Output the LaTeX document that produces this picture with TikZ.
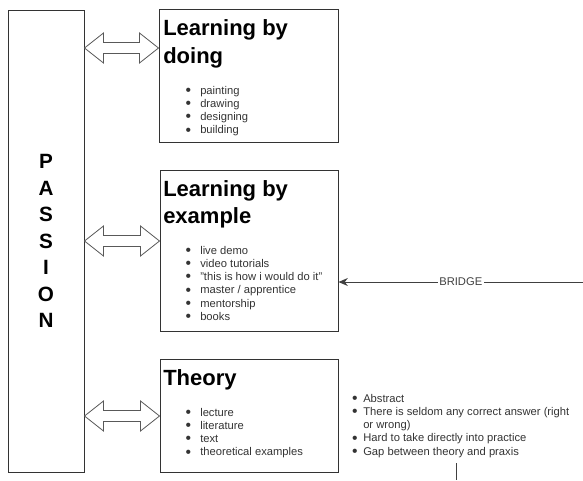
\documentclass[tikz,border=0pt]{standalone}
\usepackage{fontspec}
\setmainfont{Liberation Sans}
\usepackage{tikz}
\usetikzlibrary{arrows.meta}
\usetikzlibrary{calc}

\tikzset{
  box/.style={draw=black!80, line width=0.75pt, inner sep=0pt},
  head/.style={anchor=base west, inner sep=0pt, font=\fontsize{16.5}{21}\selectfont\bfseries},
  item/.style={anchor=base west, inner sep=0pt, text=black!80, font=\fontsize{8.4}{10}\selectfont},
  twoway/.style={draw=black!65, fill=white, line width=0.6pt, line join=miter},
}
\newcommand{\bl}[1][6.8pt]{\llap{\raisebox{-0.9pt}{\scalebox{1.4}{\textbullet}}\hspace{#1}}}
\newcommand{\twoarrow}[2]{%
  \draw[twoway] (#1) -- ($(#1)+(19,-15)$) -- ($(#1)+(19,-5.5)$) -- ($(#2)+(-19,-5.5)$)
    -- ($(#2)+(-19,-15)$) -- (#2) -- ($(#2)+(-19,15)$) -- ($(#2)+(-19,5.5)$)
    -- ($(#1)+(19,5.5)$) -- ($(#1)+(19,15)$) -- cycle;}

\begin{document}
\begin{tikzpicture}[x=0.75pt, y=-0.75pt]
\useasboundingbox (0,0) rectangle (583,480);

% left bar
\node[box, minimum width=57pt, minimum height=346.5pt, align=center,
      font=\fontsize{15.5}{19.9}\selectfont\bfseries] (passion) at (46,241)
      {P\\A\\S\\S\\I\\O\\N};

% the three boxes
\node[box, minimum width=134.25pt, minimum height=99.75pt] (doing) at (248.5,75.5) {};
\node[box, minimum width=133.5pt, minimum height=120.75pt] (example) at (249,250.5) {};
\node[box, minimum width=133.5pt, minimum height=84.75pt] (theory) at (249,415.5) {};

% learning by doing
\node[head] (h1a) at (163,35) {Learning by};
\node[head] (h1b) at (163,63) {doing};
\node[item] (d1) at (200,94) {\bl painting};
\node[item] (d2) at (200,107.3) {\bl drawing};
\node[item] (d3) at (200,120.6) {\bl designing};
\node[item] (d4) at (200,133.9) {\bl building};

% learning by example
\node[head] (h2a) at (163,196) {Learning by};
\node[head] (h2b) at (163,223) {example};
\node[item] (e1) at (200,254) {\bl live demo};
\node[item] (e2) at (200,267.3) {\bl video tutorials};
\node[item] (e3) at (200,280.6) {\bl "this is how i would do it"};
\node[item] (e4) at (200,293.9) {\bl master / apprentice};
\node[item] (e5) at (200,307.2) {\bl mentorship};
\node[item] (e6) at (200,320.5) {\bl books};

% theory
\node[head] (h3a) at (163,385) {Theory};
\node[item] (t1) at (200,416) {\bl lecture};
\node[item] (t2) at (200,429.3) {\bl literature};
\node[item] (t3) at (200,442.6) {\bl text};
\node[item] (t4) at (200,455.9) {\bl theoretical examples};

% notes on theory
\node[item] (n1) at (363,402) {\bl[4.2pt]Abstract};
\node[item] (n2) at (363,415.3) {\bl[4.2pt]There is seldom any correct answer (right};
\node[item] (n3) at (363,428.6) {or wrong)};
\node[item] (n4) at (363,441.9) {\bl[4.2pt]Hard to take directly into practice};
\node[item] (n5) at (363,455.2) {\bl[4.2pt]Gap between theory and praxis};

% two-way arrows
\coordinate (a1l) at (passion.east |- 0,48);
\coordinate (a1r) at (doing.west |- 0,48);
\coordinate (a2l) at (passion.east |- 0,241);
\coordinate (a2r) at (example.west |- 0,241);
\coordinate (a3l) at (passion.east |- 0,416);
\coordinate (a3r) at (theory.west |- 0,416);
\twoarrow{a1l}{a1r}
\twoarrow{a2l}{a2r}
\twoarrow{a3l}{a3r}

% bridge
\coordinate (bridgeR) at (583,282);
\draw[-{Stealth[length=7pt,width=6pt]}, draw=black!75, line width=0.75pt]
  (bridgeR) -- (bridgeR -| example.east)
  node[midway, fill=white, inner sep=1pt, text=black!75, font=\fontsize{8.4}{10}\selectfont] (bridge) {BRIDGE};

% line going down
\coordinate (gapTop) at (456,463);
\coordinate (gapBot) at (456,480);
\draw[draw=black!75, line width=0.75pt] (gapTop) -- (gapBot);
\end{tikzpicture}
\end{document}
